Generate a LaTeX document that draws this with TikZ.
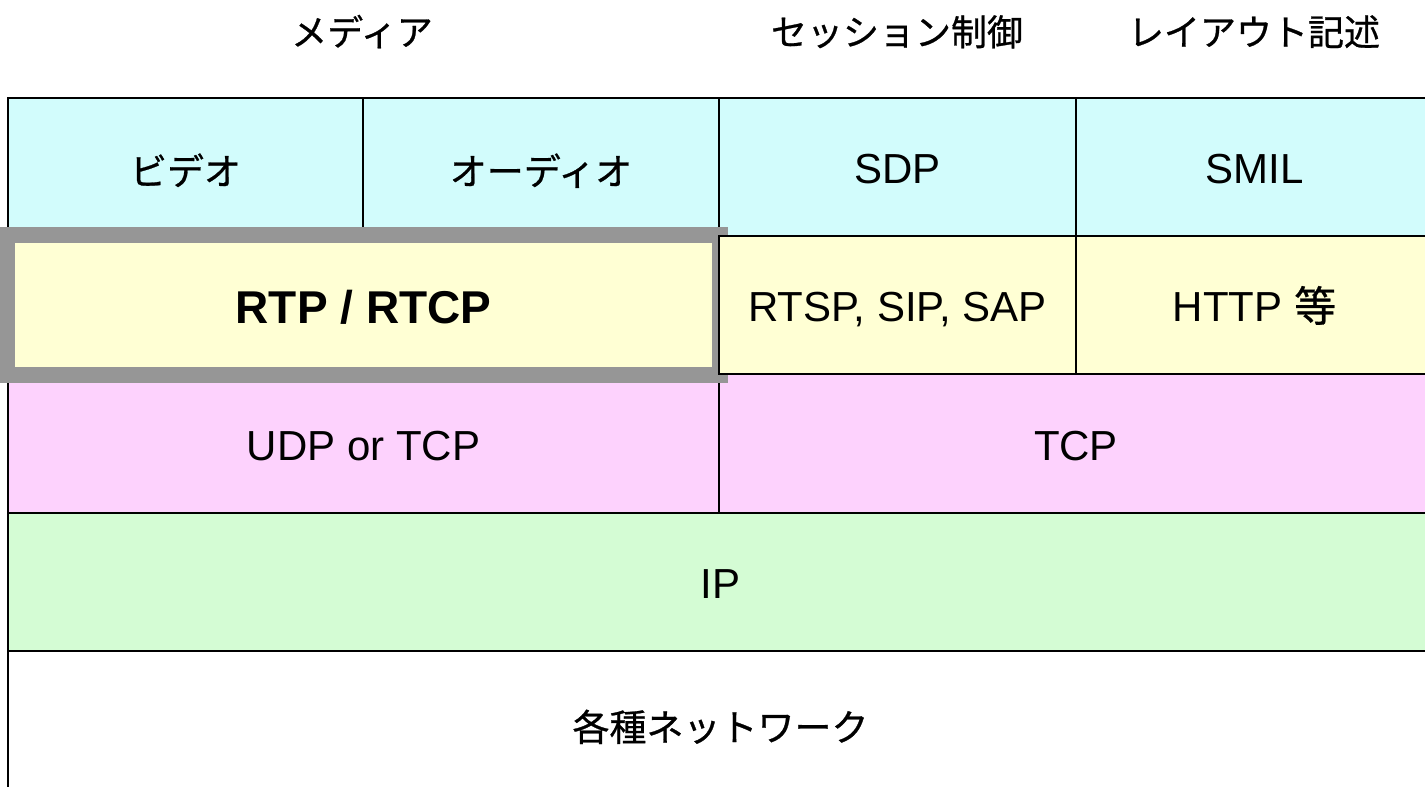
\documentclass[tikz,border=0pt]{standalone}
\usepackage{fontspec}
\setmainfont{Liberation Sans}
\newfontfamily\jp[FakeBold=0.7]{Noto Sans CJK JP}
\definecolor{cyanc}{HTML}{D2FCFC}
\definecolor{yellowc}{HTML}{FFFFD4}
\definecolor{pinkc}{HTML}{FDD2FD}
\definecolor{greenc}{HTML}{D4FCD4}
\definecolor{framegray}{HTML}{969696}
\tikzset{
  cell/.style={draw=black, line width=2pt, inner sep=0pt, anchor=center,
    text height=33pt, text depth=0pt, font=\fontsize{42}{48}\selectfont},
  jpcell/.style={cell, text height=36pt, text depth=0pt, font=\jp\fontsize{37}{42}\selectfont},
  toplabel/.style={inner sep=0pt, text height=36pt, text depth=0pt, font=\jp\fontsize{36}{42}\selectfont},
  rtpframe/.style={draw=framegray, line width=16pt}
}
\begin{document}
\begin{tikzpicture}[x=1pt,y=-1pt]
\useasboundingbox (0,0) rectangle (1425,787);
\clip (0,0) rectangle (1425,787);
% top labels
\node[toplabel] (lmedia) at (362,27.5) {メディア};
\node[toplabel] (lsess) at (897,27.5) {セッション制御};
\node[toplabel] (llay) at (1254,27.5) {レイアウト記述};
% row 1
\node[jpcell, fill=cyanc, minimum width=355, minimum height=138] (video) at (185.5,167) {ビデオ};
\node[jpcell, fill=cyanc, minimum width=356, minimum height=138] (audio) at (541,167) {オーディオ};
\node[cell, fill=cyanc, minimum width=357, minimum height=138] (sdp) at (897.5,167) {SDP};
\node[cell, fill=cyanc, minimum width=357, minimum height=138] (smil) at (1254.5,167) {SMIL};
% row 2
\node[cell, fill=yellowc, minimum width=711, minimum height=138, text height=36pt, font=\bfseries\fontsize{46}{52}\selectfont] (rtp) at (363.5,305) {RTP / RTCP};
\node[cell, fill=yellowc, minimum width=357, minimum height=138] (http) at (1254.5,305) {HTTP {\jp 等}};
% row 3
\node[cell, fill=pinkc, minimum width=711, minimum height=139] (udp) at (363.5,443.5) {UDP or TCP};
\node[cell, fill=pinkc, minimum width=714, minimum height=139] (tcp) at (1076,443.5) {TCP};
% row 4
\node[cell, fill=greenc, minimum width=1425, minimum height=138] (ip) at (720.5,582) {IP};
% row 5
\node[jpcell, fill=white, minimum width=1425, minimum height=144] (net) at (720.5,723) {各種ネットワーク};
% highlight frame round RTP / RTCP
\draw[rtpframe] (rtp.north west) rectangle (rtp.south east);
% RTSP cell drawn over the frame's right edge
\node[cell, fill=yellowc, minimum width=357, minimum height=138] (rtsp) at (897.5,305) {RTSP, SIP, SAP};
\end{tikzpicture}
\end{document}
